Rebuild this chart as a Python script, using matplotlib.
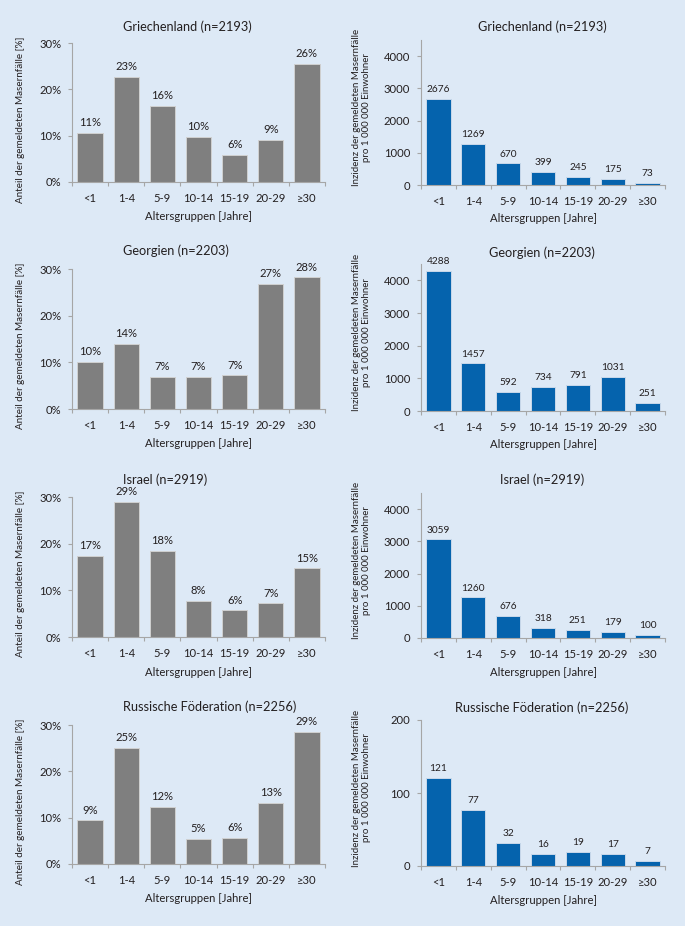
import matplotlib
matplotlib.use("Agg")
import matplotlib.pyplot as plt
import matplotlib.transforms as mtransforms
import numpy as np
from matplotlib.ticker import FuncFormatter, FixedLocator

plt.rcParams['font.family'] = ['Lato', 'DejaVu Sans']

categories = ["<1", "1-4", "5-9", "10-14", "15-19", "20-29", "≥30"]

countries = ["Griechenland (n=2193)", "Georgien (n=2203)",
             "Israel (n=2919)", "Russische Föderation (n=2256)"]

# share of reported measles cases [%] (bar heights)
share_gr = [10.6, 22.6, 16.4, 9.7, 5.8, 9.1, 25.5]
share_ge = [10.0, 14.0, 6.9, 6.8, 7.2, 26.8, 28.2]
share_il = [17.3, 29.0, 18.5, 7.7, 5.7, 7.2, 14.7]
share_ru = [9.4, 25.1, 12.3, 5.5, 5.6, 13.1, 28.5]

# labels as printed
share_lbl_gr = ["11%", "23%", "16%", "10%", "6%", "9%", "26%"]
share_lbl_ge = ["10%", "14%", "7%", "7%", "7%", "27%", "28%"]
share_lbl_il = ["17%", "29%", "18%", "8%", "6%", "7%", "15%"]
share_lbl_ru = ["9%", "25%", "12%", "5%", "6%", "13%", "29%"]

# incidence per 1 000 000 inhabitants
inc_gr = [2676, 1269, 670, 399, 245, 175, 73]
inc_ge = [4288, 1457, 592, 734, 791, 1031, 251]
inc_il = [3059, 1260, 676, 318, 251, 179, 100]
inc_ru = [121, 77, 32, 16, 19, 17, 7]

inc_ymax = [4500, 4500, 4500, 200]
inc_ticks = [[0, 1000, 2000, 3000, 4000]] * 3 + [[0, 100, 200]]

shares = [share_gr, share_ge, share_il, share_ru]
share_lbls = [share_lbl_gr, share_lbl_ge, share_lbl_il, share_lbl_ru]
incs = [inc_gr, inc_ge, inc_il, inc_ru]

W, H = 685, 926
BG = '#dde9f6'
GREY = '#7f7f7f'
BLUE = '#0563ad'
TXT = '#231f20'
SPINE = '#a6a6a6'

fig = plt.figure(figsize=(W / 100, H / 100), dpi=100, facecolor=BG)

def add_ax(x0, x1, ytop, ybot):
    return fig.add_axes([x0 / W, 1 - ybot / H, (x1 - x0) / W, (ybot - ytop) / H])

left_rows = [(43, 182), (269, 409), (497, 637), (725, 864)]
right_rows = [(40, 185), (264, 411), (493, 638), (720, 866)]
left_title_y = [27, 251, 480, 707]
right_title_y = [27, 253, 480, 708]

def style(ax, xcenter_px, ybot_px, xlab_off):
    ax.set_facecolor(BG)
    for s in ['top', 'right']:
        ax.spines[s].set_visible(False)
    for s in ['left', 'bottom']:
        ax.spines[s].set_color(SPINE)
        ax.spines[s].set_linewidth(0.8)
    x = np.arange(len(categories))
    ax.set_xlim(-0.5, len(categories) - 0.5)
    ax.set_xticks(x)
    ax.xaxis.set_minor_locator(FixedLocator(np.arange(-0.5, len(categories), 1.0)))
    ax.tick_params(axis='x', which='major', length=0, labelbottom=False)
    ax.tick_params(axis='x', which='minor', length=2.7, width=0.8, color=SPINE)
    ax.tick_params(axis='y', which='major', length=2.7, width=0.8, color=SPINE,
                   labelsize=8.1, labelcolor=TXT, pad=5)
    tr = mtransforms.offset_copy(ax.get_xaxis_transform(), fig=fig, y=-20, units='dots')
    for xi, c in zip(x, categories):
        ax.text(xi, 0, c, transform=tr, ha='center', va='baseline',
                fontsize=8.1, color=TXT, family=['Lato', 'DejaVu Sans'])
    fig.text(xcenter_px / W, 1 - (ybot_px + xlab_off) / H, "Altersgruppen [Jahre]",
             fontsize=8.1, color=TXT, ha='center', va='center')

for i in range(4):
    x = np.arange(len(categories))
    # left: share
    ax = add_ax(72, 325, *left_rows[i])
    style(ax, 198.5, left_rows[i][1], 35)
    bars = ax.bar(x, shares[i], width=0.7, color=GREY, edgecolor='#d0d0d0', linewidth=0.7)
    ax.set_ylim(0, 30)
    ax.set_yticks([0, 10, 20, 30])
    ax.yaxis.set_major_formatter(FuncFormatter(lambda v, p: f"{int(v)}%"))
    for b, lab in zip(bars, share_lbls[i]):
        ax.annotate(lab, (b.get_x() + b.get_width() / 2, b.get_height()),
                    xytext=(0, 3.5), textcoords='offset points', ha='center', va='bottom',
                    fontsize=8.1, color=TXT)
    ax.set_ylabel("Anteil der gemeldeten Masernfälle [%]", fontsize=7.1, color=TXT)
    ax.yaxis.set_label_coords(-0.186, 0.5 - 7 / 139)
    fig.text(123 / W, 1 - left_title_y[i] / H, countries[i], fontsize=9.2, color=TXT,
             ha='left', va='center')

    # right: incidence
    ax = add_ax(421, 665, *right_rows[i])
    style(ax, 543, right_rows[i][1], 34)
    bars = ax.bar(x, incs[i], width=0.7, color=BLUE, edgecolor='#c8d8ea', linewidth=0.7)
    ax.set_ylim(0, inc_ymax[i])
    ax.set_yticks(inc_ticks[i])
    for b, v in zip(bars, incs[i]):
        ax.annotate(str(v), (b.get_x() + b.get_width() / 2, b.get_height()),
                    xytext=(0, 3.5), textcoords='offset points', ha='center', va='bottom',
                    fontsize=7.3, color=TXT)
    ax.set_ylabel("Inzidenz der gemeldeten Masernfälle\npro 1 000 000 Einwohner",
                  fontsize=7.0, color=TXT, linespacing=1.1)
    ax.yaxis.set_label_coords(-0.205, 0.5 + 5 / 145)
    fig.text(542 / W, 1 - right_title_y[i] / H, countries[i], fontsize=9.2, color=TXT,
             ha='center', va='center')

fig.savefig("out.png", dpi=100, facecolor=BG)
